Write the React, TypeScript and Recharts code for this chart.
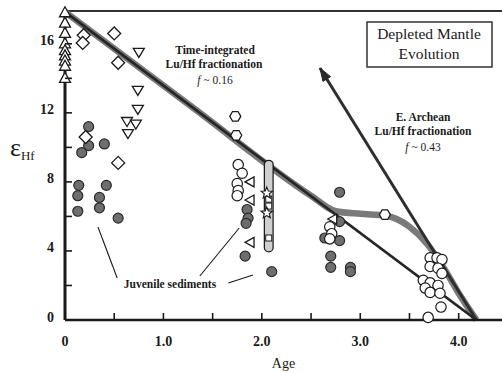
import React from 'react';
import { ComposedChart, Scatter, Line, XAxis, YAxis, ReferenceLine } from 'recharts';

// age (Ga) vs epsilon-Hf
const ageTicks = [0, 0.5, 1, 1.5, 2, 2.5, 3, 3.5, 4];
const epsTicks = [0, 2, 4, 6, 8, 10, 12, 14, 16];

const openTriangles = [[0, 17.8], [0, 17.2], [0, 16.6], [0, 16.0], [0, 15.6], [0, 15.3], [0, 15.0], [0, 14.7], [0, 14.0]];
const openDiamonds = [[0.19, 16.5], [0.18, 16.05], [0.5, 16.6], [0.54, 14.9], [0.21, 10.6], [0.54, 9.1]];
const invTriangles = [[0.75, 15.5], [0.74, 13.3], [0.74, 12.2], [0.63, 11.5], [0.72, 11.35], [0.64, 10.8]];
const juvenile = [
  [0.24, 11.2], [0.24, 10.1], [0.17, 9.7], [0.4, 10.2], [0.14, 7.8], [0.13, 7.2], [0.42, 7.8],
  [0.35, 7.1], [0.35, 6.5], [0.13, 6.3], [0.54, 5.9],
  [1.85, 6.4], [1.86, 5.9], [1.84, 5.6], [1.83, 3.7], [2.1, 2.8],
  [2.79, 7.4], [2.79, 5.7], [2.64, 4.75], [2.79, 4.6], [2.7, 3.7], [2.7, 3.05], [2.9, 3.05], [2.9, 2.8],
];
const hexagons = [[1.73, 11.8], [1.74, 10.7], [3.25, 6.1]];
const openCircles = [
  [1.76, 9.0], [1.8, 8.5], [1.75, 7.9], [1.76, 7.5], [1.75, 7.2],
  [2.69, 5.4], [2.71, 5.0], [2.69, 4.7],
  [3.71, 3.6], [3.78, 3.6], [3.83, 3.5], [3.71, 3.1], [3.79, 3.0], [3.83, 2.7], [3.64, 2.3],
  [3.71, 2.15], [3.79, 2.0], [3.66, 1.85], [3.71, 1.6], [3.81, 1.55], [3.82, 0.75], [3.69, 0.15],
];
const leftTriangles = [[1.88, 8.0], [1.88, 6.95], [1.88, 4.5], [2.72, 5.85]];
const stars = [[2.05, 7.35], [2.05, 6.2]];
const barRange = [[2.07, 9.0], [2.07, 4.2]];
const squares = [[2.07, 7.0], [2.07, 6.6], [2.07, 4.75]];

const dmStraight = [[0, 17.85], [4.18, 0]];
const dmCurve = [
  [0, 17.85], [1.3, 12.3], [2.5, 7.2], [2.75, 6.3], [3.0, 6.15], [3.25, 6.05],
  [3.5, 5.4], [3.68, 4.4], [3.85, 3.0], [4.0, 1.55], [4.18, 0],
];
const archeanArrow = [[4.18, 0], [2.59, 14.6]];

const leaders = [
  [[0.335, 5.39], [0.53, 2.43]],
  [[1.37, 2.55], [1.77, 5.33]],
  [[1.66, 2.14], [1.91, 2.61]],
];

const pts = (a: number[][]) => a.map(([x, y]) => ({ x, y }));

const W = 502;
const H = 373;
const LEFT = 65;
const TOP = 11;
const BOTTOM = 320;
const X_MAX = 4.44;
const Y_MAX = 17.9;
const pxX = (W - LEFT) / X_MAX;
const pxY = (BOTTOM - TOP) / Y_MAX;
const FONT = '"Liberation Serif", "DejaVu Serif", serif';
const INK = '#1a1a1a';

const TriUp = ({ cx, cy }: any) => (
  <polygon points={`${cx},${cy - 6} ${cx - 5.5},${cy + 4} ${cx + 5.5},${cy + 4}`} fill="#fff" stroke={INK} strokeWidth={1.3} />
);
const TriDown = ({ cx, cy }: any) => (
  <polygon points={`${cx},${cy + 5} ${cx - 5.5},${cy - 4} ${cx + 5.5},${cy - 4}`} fill="#fff" stroke={INK} strokeWidth={1.3} />
);
const TriLeft = ({ cx, cy }: any) => (
  <polygon points={`${cx - 5},${cy} ${cx + 4},${cy - 5} ${cx + 4},${cy + 5}`} fill="#fff" stroke={INK} strokeWidth={1.3} />
);
const Diamond = ({ cx, cy }: any) => (
  <polygon points={`${cx},${cy - 6.5} ${cx + 6.5},${cy} ${cx},${cy + 6.5} ${cx - 6.5},${cy}`} fill="#fff" stroke={INK} strokeWidth={1.3} />
);
const GrayDot = ({ cx, cy }: any) => <circle cx={cx} cy={cy} r={5} fill="#6e6e6e" stroke="#2a2a2a" strokeWidth={1.2} />;
const OpenDot = ({ cx, cy }: any) => <circle cx={cx} cy={cy} r={5.2} fill="#fff" stroke={INK} strokeWidth={1.2} />;
const Square = ({ cx, cy }: any) => <rect x={cx - 3} y={cy - 3} width={6} height={6} fill="#fff" stroke={INK} strokeWidth={1} />;
const Hexagon = ({ cx, cy }: any) => {
  const r = 5.5;
  const p = [0, 1, 2, 3, 4, 5]
    .map((i) => {
      const a = (Math.PI / 3) * i;
      return `${cx + r * Math.cos(a)},${cy + r * Math.sin(a)}`;
    })
    .join(' ');
  return <polygon points={p} fill="#fff" stroke={INK} strokeWidth={1.3} />;
};
const Star = ({ cx, cy }: any) => {
  const p = Array.from({ length: 10 })
    .map((_, i) => {
      const r = i % 2 === 0 ? 6 : 2.6;
      const a = -Math.PI / 2 + (Math.PI / 5) * i;
      return `${cx + r * Math.cos(a)},${cy + r * Math.sin(a)}`;
    })
    .join(' ');
  return <polygon points={p} fill="#fff" stroke={INK} strokeWidth={1.1} />;
};

const ArrowDot = (props: any) => {
  const { cx, cy, index } = props;
  if (index !== 1) return <g key={`a${index}`} />;
  const [[x0, y0], [x1, y1]] = archeanArrow;
  const ang = Math.atan2(-(y1 - y0) * pxY, (x1 - x0) * pxX);
  const L = 13;
  const w = 4.5;
  const bx = cx - L * Math.cos(ang);
  const by = cy - L * Math.sin(ang);
  const nx = -Math.sin(ang) * w;
  const ny = Math.cos(ang) * w;
  return (
    <polygon
      key="arrowhead"
      points={`${cx},${cy} ${bx + nx},${by + ny} ${bx - nx},${by - ny}`}
      fill="#2a2a2a"
      stroke="#2a2a2a"
    />
  );
};

const YTick = (props: any) => {
  const { y, payload } = props;
  const v = payload.value;
  return (
    <g>
      <line x1={LEFT} x2={LEFT + 7} y1={y} y2={y} stroke={INK} strokeWidth={1.6} />
      {v % 4 === 0 && (
        <text x={54} y={y - 3} textAnchor="end" dominantBaseline="central" fontFamily={FONT} fontSize={14} fontWeight="bold" fill={INK}>
          {v}
        </text>
      )}
    </g>
  );
};

const XTick = (props: any) => {
  const { x, payload } = props;
  const v = payload.value;
  return (
    <g>
      <line x1={x} x2={x} y1={BOTTOM} y2={BOTTOM - 7} stroke={INK} strokeWidth={1.6} />
      {Number.isInteger(v) && (
        <text x={x} y={341} textAnchor="middle" dominantBaseline="central" fontFamily={FONT} fontSize={14} fontWeight="bold" fill={INK}>
          {v === 0 ? '0' : v.toFixed(1)}
        </text>
      )}
    </g>
  );
};

const annot = { fontFamily: FONT, fontSize: 11.5, fontWeight: 'bold' as const, fill: INK, textAnchor: 'middle' as const };

export default function App() {
  return (
    <div style={{ position: 'absolute', left: 0, top: 0, width: W, height: H, background: '#fff' }}>
      <ComposedChart width={W} height={H} margin={{ top: TOP, right: 0, bottom: 0, left: 0 }}>
        <XAxis
          dataKey="x"
          type="number"
          domain={[0, X_MAX]}
          ticks={ageTicks}
          height={H - BOTTOM}
          tickSize={0}
          tick={<XTick />}
          axisLine={{ stroke: INK, strokeWidth: 2.5 }}
          label={{ value: 'Age', position: 'insideBottom', offset: 5, fontFamily: FONT, fontSize: 14, fill: INK }}
        />
        <YAxis
          dataKey="y"
          type="number"
          domain={[0, Y_MAX]}
          ticks={epsTicks}
          width={LEFT}
          tickSize={0}
          tick={<YTick />}
          axisLine={{ stroke: INK, strokeWidth: 3 }}
        />
        <ReferenceLine y={Y_MAX} stroke="#333" strokeWidth={2} />
        {leaders.map((seg, i) => (
          <ReferenceLine key={i} segment={pts(seg)} stroke={INK} strokeWidth={1.1} />
        ))}

        <Line data={pts(dmCurve)} dataKey="y" type="monotone" stroke="#7a7a7a" strokeWidth={6.5} dot={false} isAnimationActive={false} />
        <Line data={pts(dmStraight)} dataKey="y" type="linear" stroke="#262626" strokeWidth={2.8} dot={false} isAnimationActive={false} />
        <Line data={pts(archeanArrow)} dataKey="y" type="linear" stroke="#2e2e2e" strokeWidth={3} dot={<ArrowDot />} isAnimationActive={false} />

        <Line data={pts(barRange)} dataKey="y" type="linear" stroke={INK} strokeWidth={10} strokeLinecap="round" dot={false} isAnimationActive={false} />
        <Line data={pts(barRange)} dataKey="y" type="linear" stroke="#cfcfcf" strokeWidth={7.5} strokeLinecap="round" dot={false} isAnimationActive={false} />
        <Scatter data={pts(squares)} dataKey="y" shape={Square} isAnimationActive={false} />

        <Scatter data={pts(juvenile)} dataKey="y" shape={GrayDot} isAnimationActive={false} />
        <Scatter data={pts(openCircles)} dataKey="y" shape={OpenDot} isAnimationActive={false} />
        <Scatter data={pts(hexagons)} dataKey="y" shape={Hexagon} isAnimationActive={false} />
        <Scatter data={pts(leftTriangles)} dataKey="y" shape={TriLeft} isAnimationActive={false} />
        <Scatter data={pts(stars)} dataKey="y" shape={Star} isAnimationActive={false} />
        <Scatter data={pts(openDiamonds)} dataKey="y" shape={Diamond} isAnimationActive={false} />
        <Scatter data={pts(invTriangles)} dataKey="y" shape={TriDown} isAnimationActive={false} />
        <Scatter data={pts(openTriangles)} dataKey="y" shape={TriUp} isAnimationActive={false} />
      </ComposedChart>

      <svg width={W} height={H} style={{ position: 'absolute', left: 0, top: 0, pointerEvents: 'none' }}>
        <text x={10} y={156} fontFamily={FONT} fontSize={26} fill={INK}>
          ε<tspan fontSize={13} dy={4}>Hf</tspan>
        </text>

        <text {...annot} x={215} y={54}>Time-integrated</text>
        <text {...annot} x={214} y={68}>Lu/Hf fractionation</text>
        <text {...annot} x={215} y={84} fontWeight="normal">
          <tspan fontStyle="italic">f</tspan> ~ 0.16
        </text>

        <text {...annot} x={423} y={121}>E. Archean</text>
        <text {...annot} x={423} y={135}>Lu/Hf fractionation</text>
        <text {...annot} x={423} y={151} fontWeight="normal">
          <tspan fontStyle="italic">f</tspan> ~ 0.43
        </text>

        <rect x={367} y={22} width={125} height={45} fill="#fff" stroke="#333" strokeWidth={1.5} />
        <text x={429} y={39} textAnchor="middle" fontFamily={FONT} fontSize={15.5} fill={INK}>Depleted Mantle</text>
        <text x={429} y={59} textAnchor="middle" fontFamily={FONT} fontSize={15.5} fill={INK}>Evolution</text>

        <text {...annot} x={170} y={288}>Juvenile sediments</text>
      </svg>
    </div>
  );
}
